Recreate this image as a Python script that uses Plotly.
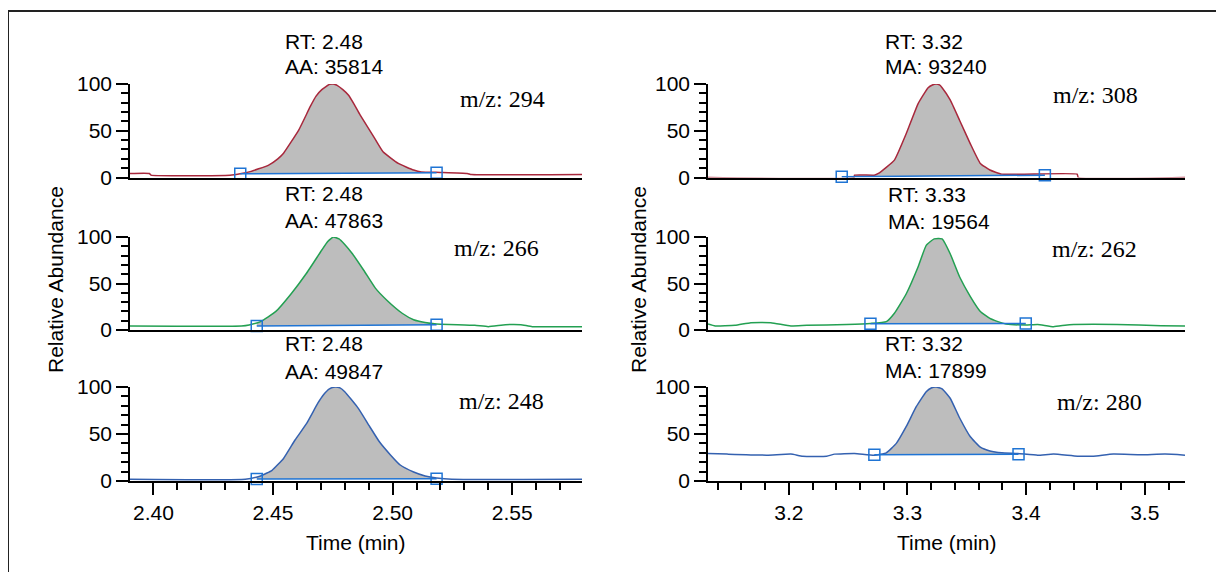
import numpy as np
import plotly.graph_objects as go

# The page body adds an 8px margin, so the figure is drawn 8px smaller and all
# pixel positions below are taken relative to the reference image minus 8px.
OFF = 8
W, H = 1224 - OFF, 572 - OFF

# ---------------- data ----------------
# Left column (RT ~2.48)
t_294 = [2.3902, 2.3983, 2.3990, 2.4320, 2.4368, 2.4400, 2.4480, 2.4520, 2.4544, 2.4608, 2.4656,
         2.4680, 2.4704, 2.4736, 2.4752, 2.4768, 2.4792, 2.4816, 2.4840, 2.4864, 2.4920, 2.4960,
         2.5024, 2.5088, 2.5120, 2.5200, 2.5312, 2.5330, 2.5792]
i_294 = [4.3, 4.3, 2.5, 2.5, 4.3, 6.0, 13, 20, 26, 51, 76, 87, 94, 99.6, 100, 98.6, 94, 88, 78,
         67, 44, 27.5, 15, 8, 6, 5.4, 4.3, 3.2, 3.2]
bt_294 = [2.4363, 2.5184]
bi_294 = [4.0, 5.0]

t_266 = [2.3902, 2.4368, 2.4400, 2.4448, 2.4512, 2.4576, 2.4640, 2.4704, 2.4728, 2.4752, 2.4776,
         2.4800, 2.4832, 2.4880, 2.4928, 2.4976, 2.5040, 2.5088, 2.5136, 2.5184, 2.5344, 2.5400,
         2.5472, 2.5536, 2.5584, 2.5792]
i_266 = [4.3, 4.3, 5.4, 9, 20, 39, 61, 86, 95, 100, 98, 92, 82, 64, 45, 32, 18, 11, 8, 6.4, 5,
         3.6, 5.7, 5.7, 3.6, 3.6]
bt_266 = [2.4432, 2.5184]
bi_266 = [4.3, 5.6]

t_248 = [2.3902, 2.4384, 2.4448, 2.4496, 2.4544, 2.4592, 2.4640, 2.4688, 2.4712, 2.4736, 2.4760,
         2.4780, 2.4800, 2.4856, 2.4904, 2.4944, 2.4992, 2.5032, 2.5088, 2.5136, 2.5184, 2.5248,
         2.5792]
i_248 = [1.8, 1.8, 5.4, 11.4, 24, 43.6, 61, 83, 92, 98, 100, 99, 95, 77.5, 58, 42, 27.5, 17, 9.6,
         5.4, 3.2, 1.8, 1.8]
bt_248 = [2.4432, 2.5184]
bi_248 = [2.0, 2.5]

# Right column (RT ~3.32)
t_308 = [3.1319, 3.2550, 3.2554, 3.2720, 3.2755, 3.2890, 3.2990, 3.3090, 3.3174, 3.3210, 3.3242,
         3.3270, 3.3292, 3.3360, 3.3440, 3.3530, 3.3614, 3.3695, 3.3795, 3.4430, 3.4440, 3.5339]
i_308 = [0.0, 0.0, 2.5, 2.5, 4.3, 18.6, 47, 79, 96, 99, 100, 99, 96, 83, 61, 36, 15, 8, 3.6, 3.6,
         0.0, 0.0]
bt_308 = [3.2446, 3.4158]
bi_308 = [0.8, 2.5]

t_262 = [3.1319, 3.1380, 3.1547, 3.1680, 3.1849, 3.2017, 3.2151, 3.2487, 3.2688, 3.2822, 3.2890,
         3.2990, 3.3090, 3.3158, 3.3225, 3.3292, 3.3360, 3.3440, 3.3530, 3.3614, 3.3695, 3.3762,
         3.3830, 3.3997, 3.4097, 3.4231, 3.4366, 3.4765, 3.5138, 3.5339]
i_262 = [6.4, 4.3, 5, 7.9, 7.9, 4.3, 5, 6, 7.1, 9, 18, 39, 68, 91, 98, 98, 82, 57, 36, 20, 12.5,
         9, 6.4, 5.4, 6, 3.6, 5.7, 6, 4.6, 4.3]
bt_262 = [3.2688, 3.3997]
bi_262 = [6.8, 7.0]

t_280 = [3.1319, 3.1480, 3.1815, 3.2017, 3.2117, 3.2319, 3.2386, 3.2554, 3.2721, 3.2822, 3.2906,
         3.2990, 3.3074, 3.3158, 3.3200, 3.3242, 3.3292, 3.3360, 3.3440, 3.3530, 3.3614, 3.3695,
         3.3795, 3.3929, 3.4097, 3.4231, 3.4433, 3.4567, 3.4735, 3.4970, 3.5171, 3.5339]
i_280 = [29.3, 28.6, 27.5, 28.6, 26.4, 26.4, 28.6, 29.3, 27.5, 30, 40, 58, 79, 95, 99, 100, 98,
         88, 67, 47, 36, 32, 30, 29.3, 27.5, 28.6, 26.4, 26.4, 28.6, 27.9, 28.6, 27.5]
bt_280 = [3.2721, 3.3936]
bi_280 = [28.0, 28.5]

mz_labels = ["m/z: 294", "m/z: 266", "m/z: 248", "m/z: 308", "m/z: 262", "m/z: 280"]
rt_labels = ["RT: 2.48", "RT: 2.48", "RT: 2.48", "RT: 3.32", "RT: 3.33", "RT: 3.32"]
area_labels = ["AA: 35814", "AA: 47863", "AA: 49847", "MA: 93240", "MA: 19564", "MA: 17899"]

RED = "#a8283c"
GREEN = "#23a052"
BLUE = "#3461b0"
BASE = "#1f74d4"
FILL = "#bdbdbd"

panels = [
    (t_294, i_294, bt_294, bi_294, RED),
    (t_266, i_266, bt_266, bi_266, GREEN),
    (t_248, i_248, bt_248, bi_248, BLUE),
    (t_308, i_308, bt_308, bi_308, RED),
    (t_262, i_262, bt_262, bi_262, GREEN),
    (t_280, i_280, bt_280, bi_280, BLUE),
]

# ---------------- layout geometry (reference pixels) ----------------
def px_x(p):
    return (p - OFF) / W

def px_y(p):
    return 1 - (p - OFF) / H

col_px = [(130, 582), (708, 1185)]
row_px = [(84, 177.5), (237, 330), (387, 481)]
x_ranges = [[2.3902, 2.5792], [3.1319, 3.5339]]

SANS = "Liberation Sans, Arial, sans-serif"
SERIF = "Liberation Serif, Times New Roman, serif"
FS = 21

fig = go.Figure()
layout = dict(
    template="none",
    width=W, height=H, autosize=False,
    margin=dict(l=0, r=0, t=0, b=0, pad=0),
    paper_bgcolor="white", plot_bgcolor="white",
    showlegend=False,
    font=dict(family=SANS, size=FS, color="black"),
)

annotations = []
for k, (t, inten, bt, bi, col) in enumerate(panels):
    c = k // 3
    r = k % 3
    n = k + 1
    xa = "x" if n == 1 else f"x{n}"
    ya = "y" if n == 1 else f"y{n}"

    # filled peak area between curve and baseline
    t_arr = np.array(t)
    i_arr = np.array(inten)
    mask = (t_arr > bt[0]) & (t_arr < bt[1])
    ft = [bt[0]] + list(t_arr[mask]) + [bt[1]]
    fi = [float(np.interp(bt[0], t_arr, i_arr))] + list(i_arr[mask]) + \
         [float(np.interp(bt[1], t_arr, i_arr))]
    poly_t = ft + [bt[1], bt[0]]
    poly_i = fi + [bi[1], bi[0]]
    fig.add_trace(go.Scatter(x=poly_t, y=poly_i, mode="lines", fill="toself",
                             fillcolor=FILL, line=dict(width=0), xaxis=xa, yaxis=ya,
                             hoverinfo="skip"))
    # chromatogram
    fig.add_trace(go.Scatter(x=t, y=inten, mode="lines",
                             line=dict(color=col, width=1.5, shape="spline", smoothing=0.4),
                             xaxis=xa, yaxis=ya, cliponaxis=False))
    # baseline with markers
    fig.add_trace(go.Scatter(x=bt, y=bi, mode="lines+markers",
                             line=dict(color=BASE, width=1.5),
                             marker=dict(symbol="square-open", size=11,
                                         color=BASE, line=dict(width=1.5, color=BASE)),
                             xaxis=xa, yaxis=ya, cliponaxis=False))

    x0, x1 = col_px[c]
    y0, y1 = row_px[r]
    bottom = (r == 2)
    xkey = "xaxis" if n == 1 else f"xaxis{n}"
    ykey = "yaxis" if n == 1 else f"yaxis{n}"
    xdict = dict(domain=[px_x(x0), px_x(x1)], anchor=ya, range=x_ranges[c], automargin=False,
                 showgrid=False, zeroline=False, showline=True, linecolor="black",
                 linewidth=2, fixedrange=True)
    if bottom:
        if c == 0:
            xdict.update(tick0=2.40, dtick=0.05, tickformat=".2f",
                         minor=dict(tick0=2.39, dtick=0.01, ticks="outside", ticklen=7,
                                    tickcolor="black", tickwidth=1.5, showgrid=False))
        else:
            xdict.update(tick0=3.2, dtick=0.1, tickformat=".1f",
                         minor=dict(tick0=3.14, dtick=0.02, ticks="outside", ticklen=7,
                                    tickcolor="black", tickwidth=1.5, showgrid=False))
        xdict.update(ticks="outside", ticklen=12, tickcolor="black", tickwidth=1.5,
                     tickfont=dict(size=FS, family=SANS), showticklabels=True)
    else:
        xdict.update(ticks="", showticklabels=False)
    layout[xkey] = xdict
    layout[ykey] = dict(domain=[px_y(y1), px_y(y0)], anchor=xa, range=[0, 100], automargin=False,
                        showgrid=False, zeroline=False, showline=True, linecolor="black",
                        linewidth=1.5, tickvals=[0, 50, 100], ticks="outside", ticklen=12,
                        tickcolor="black", tickwidth=1.5,
                        minor=dict(tickvals=[10, 20, 30, 40, 60, 70, 80, 90], ticks="outside",
                                   ticklen=7, tickcolor="black", tickwidth=1.5, showgrid=False),
                        tickfont=dict(size=FS, family=SANS), fixedrange=True)

# text positions (reference pixels)
rt_x = [283, 283, 283, 883, 886, 883]
rt_y = [41, 193, 343, 41, 195, 343]
aa_y = [67, 220, 371, 67, 222, 370]
mz_x = [458, 452, 457, 1051, 1050, 1055]
mz_y = [99, 248, 401, 95, 249, 402]
for k in range(6):
    annotations.append(dict(text=rt_labels[k], xref="paper", yref="paper",
                            x=px_x(rt_x[k]), y=px_y(rt_y[k]), xanchor="left", yanchor="middle",
                            showarrow=False, font=dict(size=FS, family=SANS)))
    annotations.append(dict(text=area_labels[k], xref="paper", yref="paper",
                            x=px_x(rt_x[k]), y=px_y(aa_y[k]), xanchor="left", yanchor="middle",
                            showarrow=False, font=dict(size=FS, family=SANS)))
    annotations.append(dict(text=mz_labels[k], xref="paper", yref="paper",
                            x=px_x(mz_x[k]), y=px_y(mz_y[k]), xanchor="left", yanchor="middle",
                            showarrow=False, font=dict(size=24, family=SERIF)))

for xp in (55, 638):
    annotations.append(dict(text="Relative Abundance", xref="paper", yref="paper",
                            x=px_x(xp), y=px_y(280), xanchor="center", yanchor="middle",
                            textangle=-90, showarrow=False, font=dict(size=FS, family=SANS)))
for xp in (356, 947):
    annotations.append(dict(text="Time (min)", xref="paper", yref="paper",
                            x=px_x(xp), y=px_y(542), xanchor="center", yanchor="middle",
                            showarrow=False, font=dict(size=FS, family=SANS)))

layout["annotations"] = annotations
layout["shapes"] = [
    dict(type="line", xref="paper", yref="paper", x0=px_x(8), x1=1, y0=px_y(11), y1=px_y(11),
         line=dict(color="#222222", width=2)),
    dict(type="line", xref="paper", yref="paper", x0=px_x(8), x1=px_x(8), y0=px_y(11), y1=0,
         line=dict(color="#222222", width=2)),
]
fig.update_layout(**layout)
fig.write_html("out.html")
